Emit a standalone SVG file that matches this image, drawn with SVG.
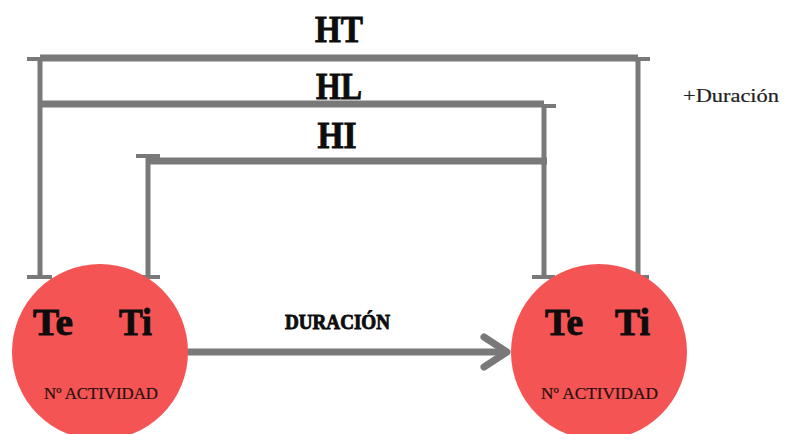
<svg xmlns="http://www.w3.org/2000/svg" width="785" height="434" viewBox="0 0 785 434">
<style>
.bar{stroke:#797979;stroke-width:7;fill:none}
.v{stroke:#797979;stroke-width:5;fill:none}
.tick{stroke:#797979;stroke-width:4;fill:none}
.node{fill:#F45454}
.big{font-family:"Liberation Serif","DejaVu Serif",serif;font-weight:bold;fill:#0d0d0d;stroke:#0d0d0d;stroke-width:0.9}
.small{font-family:"Liberation Serif","DejaVu Serif",serif;fill:#2a0f0f;font-size:16px;stroke:#2a0f0f;stroke-width:0.2}
</style>
<rect width="785" height="434" fill="#ffffff"/>
<g id="connectors">
  <line class="bar" x1="40" y1="58" x2="638" y2="58"/>
  <line class="tick" x1="27" y1="59" x2="42" y2="59"/>
  <line class="tick" x1="636" y1="59" x2="650" y2="59"/>
  <line class="v" x1="40" y1="58" x2="40" y2="277"/>
  <line class="v" x1="638" y1="58" x2="638" y2="277"/>
  <line class="tick" x1="27" y1="277" x2="52" y2="277"/>
  <line class="tick" x1="626" y1="277" x2="649" y2="277"/>
  <line class="bar" x1="40" y1="104" x2="544" y2="104"/>
  <line class="tick" x1="542" y1="106" x2="556" y2="106"/>
  <line class="v" x1="544" y1="104" x2="544" y2="277"/>
  <line class="tick" x1="532" y1="277" x2="555" y2="277"/>
  <line class="bar" x1="150" y1="161" x2="547" y2="161"/>
  <line class="tick" x1="136" y1="156" x2="160" y2="156"/>
  <line class="v" x1="148" y1="156" x2="148" y2="277"/>
  <line class="tick" x1="137" y1="277" x2="160" y2="277"/>
  <line class="bar" x1="186" y1="352" x2="504" y2="352"/>
  <polyline points="484,337 507,352 484,367" fill="none" stroke="#797979" stroke-width="7" stroke-linecap="round" stroke-linejoin="round"/>
</g>
<g id="labels">
  <text class="big" x="339" y="42" font-size="37" text-anchor="middle" textLength="48" lengthAdjust="spacingAndGlyphs">HT</text>
  <text class="big" x="339" y="99" font-size="37" text-anchor="middle" textLength="46" lengthAdjust="spacingAndGlyphs">HL</text>
  <text class="big" x="337" y="148" font-size="37" text-anchor="middle" textLength="39" lengthAdjust="spacingAndGlyphs">HI</text>
  <text class="big" x="285" y="329" font-size="21" textLength="105" lengthAdjust="spacingAndGlyphs">DURACIÓN</text>
  <text x="683" y="102" font-family="'Liberation Serif','DejaVu Serif',serif" font-size="19" fill="#222" stroke="#222" stroke-width="0.2" textLength="96" lengthAdjust="spacingAndGlyphs">+Duración</text>
</g>
<g id="node-start">
  <circle class="node" cx="100" cy="352" r="88"/>
  <text class="big" x="33" y="335" font-size="37" textLength="40" lengthAdjust="spacingAndGlyphs">Te</text>
  <text class="big" x="119" y="335" font-size="37" textLength="33" lengthAdjust="spacingAndGlyphs">Ti</text>
  <text class="small" x="44" y="399" textLength="114" lengthAdjust="spacingAndGlyphs">Nº ACTIVIDAD</text>
</g>
<g id="node-end">
  <circle class="node" cx="599" cy="352" r="88"/>
  <text class="big" x="545" y="335" font-size="37" textLength="38" lengthAdjust="spacingAndGlyphs">Te</text>
  <text class="big" x="615" y="335" font-size="37" textLength="35" lengthAdjust="spacingAndGlyphs">Ti</text>
  <text class="small" x="541" y="399" textLength="117" lengthAdjust="spacingAndGlyphs">Nº ACTIVIDAD</text>
</g>
</svg>
